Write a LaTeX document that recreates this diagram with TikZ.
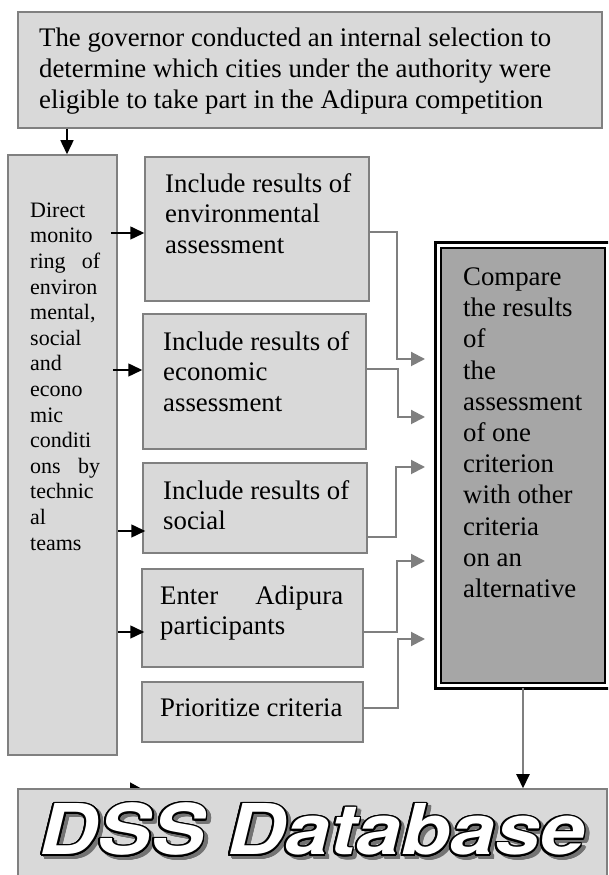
\documentclass[tikz,border=0pt]{standalone}
\usepackage{fontspec}
\setmainfont{Liberation Serif}
\newfontfamily\dbfont{TeX Gyre Heros}
\usepackage{graphicx}
\usepackage[copies]{contour}
\usetikzlibrary{arrows.meta,positioning,calc}
\definecolor{boxfill}{HTML}{D9D9D9}
\definecolor{boxline}{HTML}{808080}
\definecolor{cmpfill}{HTML}{A6A6A6}
\definecolor{linkgrey}{HTML}{7F7F7F}
\contourlength{1.6pt}
\tikzset{
    plain-box/.style={
        rectangle,
        draw=boxline,
        fill=boxfill,
        line width=1.5pt,
        inner sep=0pt
    },
    cmp-box/.style={
        rectangle,
        draw=black,
        line width=2pt,
        fill=cmpfill,
        inner sep=0pt
    },
    cmp-frame/.style={
        draw=black,
        line width=3pt
    },
    box-text/.style={
        anchor=north west,
        inner sep=0pt,
        align=left,
        font=\fontsize{26.8}{30.8}\selectfont
    },
    cmp-text/.style={
        box-text,
        font=\fontsize{26.8}{31.2}\selectfont
    },
    col-text/.style={
        box-text,
        font=\fontsize{22}{25.6}\selectfont
    },
    db-text/.style={
        anchor=base,
        inner sep=0pt,
        font=\dbfont\bfseries\itshape\fontsize{70}{80}\selectfont
    },
    feed-arrow/.style={
        draw=black,
        line width=1.5pt,
        -{Triangle[length=14pt,width=13pt]}
    },
    link-line/.style={
        draw=linkgrey,
        line width=2pt,
        -{Triangle[length=14pt,width=14pt]}
    },
}

\begin{document}
\begin{tikzpicture}[x=1pt,y=1pt]
    \useasboundingbox (0,0) rectangle (608,875);
    \clip (0,0) rectangle (608,875);

    % selection step
    \node[plain-box,minimum width=584pt,minimum height=116pt] (gov) at (310,805) {};
    \node[box-text] (govtxt) at (39,850) {\strut The governor conducted an internal selection to\\
        determine which cities under the authority were\\
        eligible to take part in the Adipura competition};

    % monitoring column
    \node[plain-box,minimum width=109pt,minimum height=600pt] (col) at (62.5,420) {};
    \node[col-text] (coltxt) at (30,675.9) {\strut Direct\\ monito\\ \makebox[70pt][s]{ring of}\\ environ\\
        mental,\\ social\\ and\\ econo\\ mic\\ conditi\\ \makebox[70pt][s]{ons by}\\ technic\\ al\\ teams};

    % assessment inputs
    \node[plain-box,minimum width=224pt,minimum height=144pt] (env) at (257,646) {};
    \node[box-text] (envtxt) at (165,704.6) {\strut Include results of\\ environmental\\ assessment};
    \node[plain-box,minimum width=223pt,minimum height=135pt] (eco) at (254.5,493.5) {};
    \node[box-text] (ecotxt) at (163,546.6) {\strut Include results of\\ economic\\ assessment};
    \node[plain-box,minimum width=224pt,minimum height=90pt] (soc) at (255,367) {};
    \node[box-text] (soctxt) at (163,397.6) {\strut Include results of\\ social};
    \node[plain-box,minimum width=221pt,minimum height=98pt] (ent) at (252.5,257) {};
    \node[box-text] (enttxt) at (160,292.6) {\strut\makebox[183pt][s]{Enter Adipura}\\ participants};
    \node[plain-box,minimum width=221pt,minimum height=60pt] (pri) at (252.5,163) {};
    \node[box-text] (pritxt) at (160,180.6) {\strut Prioritize criteria};

    % comparison
    \node[cmp-box,minimum width=164pt,minimum height=435pt] (cmp) at (523,409.5) {};
    \draw[cmp-frame] ($(cmp.south west)+(-4.5,-4.5)$) rectangle ($(cmp.north east)+(4.5,4.5)$);
    \node[cmp-text] (cmptxt) at (463,611.6) {\strut Compare\\ the results\\ of\\ the\\ assessment\\ of one\\
        criterion\\ with other\\ criteria\\ on an\\ alternative};

    % arrows into the inputs
    \coordinate (envin) at ([yshift=-4pt]env.west);
    \coordinate (ecoin) at ([yshift=11.5pt]eco.west);
    \coordinate (socin) at ([yshift=-23pt]soc.west);
    \coordinate (entin) at ([yshift=-14pt]ent.west);
    \draw[feed-arrow] ([xshift=4.5pt]gov.south -| col.north) -- ([xshift=4.5pt]col.north);
    \draw[feed-arrow] ([xshift=-7pt]col.east |- envin) -- (envin);
    \draw[feed-arrow] ([xshift=-5pt]col.east |- ecoin) -- (ecoin);
    \draw[feed-arrow] (col.east |- socin) -- ([xshift=3pt]socin);
    \draw[feed-arrow] (col.east |- entin) -- ([xshift=3pt]entin);

    % links to the comparison
    \coordinate (cmpa) at ($(cmp.center)+(-98,106.5)$);
    \coordinate (cmpb) at ($(cmp.center)+(-98,48.5)$);
    \coordinate (cmpc) at ($(cmp.center)+(-98,-1.5)$);
    \coordinate (cmpd) at ($(cmp.center)+(-98,-95.5)$);
    \coordinate (cmpe) at ($(cmp.center)+(-98,-173.5)$);
    \draw[link-line] ([yshift=-3pt]env.east) -- ++(27,0) |- (cmpa);
    \draw[link-line] ([yshift=12.5pt]eco.east) -- ++(31,0) |- (cmpb);
    \draw[link-line] ([yshift=-29pt]soc.east) -- ++(28,0) |- (cmpc);
    \draw[link-line] ([yshift=-14pt]ent.east) -- ++(33,0) |- (cmpd);
    \draw[link-line] ([yshift=4pt]pri.east) -- ++(34,0) |- (cmpe);

    % stray tip above the database
    \coordinate (stub) at (129,85.5);
    \draw[feed-arrow,-{Triangle[length=13pt,width=14pt]}] (stub) -- ++(14,0);

    % database
    \node[plain-box,minimum width=589pt,minimum height=111pt] (db) at (312.5,30.5) {};
    \draw[draw=linkgrey,line width=2pt,-{Triangle[length=14pt,width=13pt,fill=black,color=black]}]
        ([yshift=-4.5pt]cmp.south) -- (cmp.south |- db.north);
    \node[db-text,text=black!55] (dbshadow) at (315.5,17) {\scalebox{1.15}[1]{\contour{black!55}{DSS Database}}};
    \node[db-text] (dbname) at (312,20) {\scalebox{1.15}[1]{\contour{black}{\textcolor{white}{DSS Database}}}};
\end{tikzpicture}
\end{document}
